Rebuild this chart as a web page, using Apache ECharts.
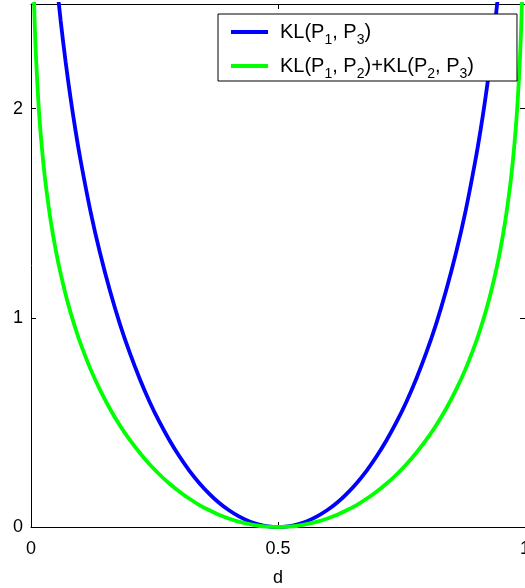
<!DOCTYPE html>
<html>
<head>
<meta charset="utf-8">
<script src="https://cdn.jsdelivr.net/npm/echarts@6/dist/echarts.min.js"></script>
<style>
  html, body { margin: 0; padding: 0; background: #ffffff; }
  #chart { width: 525px; height: 588px; }
</style>
</head>
<body>
<div id="chart"></div>
<script>
// Distance parameter d
const dValues = [0.004,0.006,0.008,0.01,0.015,0.02,0.025,0.03,0.04,0.05,0.06,0.07,0.08,0.09,0.10,
  0.12,0.14,0.16,0.18,0.20,0.22,0.24,0.26,0.28,0.30,0.32,0.34,0.36,0.38,0.40,0.42,0.44,0.46,0.48,0.50,
  0.52,0.54,0.56,0.58,0.60,0.62,0.64,0.66,0.68,0.70,0.72,0.74,0.76,0.78,0.80,0.82,0.84,0.86,0.88,
  0.90,0.91,0.92,0.93,0.94,0.95,0.96,0.97,0.975,0.98,0.985,0.99,0.992,0.994,0.996];

// KL(P1, P3)
const klDirect = [5.473,5.049,4.743,4.503,4.059,3.736,3.480,3.268,2.924,2.650,2.421,2.225,2.052,1.897,1.758,
  1.514,1.307,1.128,0.970,0.832,0.709,0.599,0.502,0.416,0.339,0.271,0.212,0.161,0.117,0.081,0.052,0.029,0.013,0.003,0,
  0.003,0.013,0.029,0.052,0.081,0.117,0.161,0.212,0.271,0.339,0.416,0.502,0.599,0.709,0.832,0.970,1.128,1.307,1.514,
  1.758,1.897,2.052,2.225,2.421,2.650,2.924,3.268,3.480,3.736,4.059,4.503,4.743,5.049,5.473];

// KL(P1, P2) + KL(P2, P3)
const klSum = [2.737,2.525,2.372,2.252,2.030,1.868,1.740,1.634,1.462,1.325,1.211,1.113,1.026,0.949,0.879,
  0.757,0.654,0.564,0.485,0.416,0.355,0.300,0.251,0.208,0.170,0.136,0.106,0.081,0.059,0.041,0.026,0.015,0.006,0.002,0,
  0.002,0.006,0.015,0.026,0.041,0.059,0.081,0.106,0.136,0.170,0.208,0.251,0.300,0.355,0.416,0.485,0.564,0.654,0.757,
  0.879,0.949,1.026,1.113,1.211,1.325,1.462,1.634,1.740,1.868,2.030,2.252,2.372,2.525,2.737];

const xTicks = [0, 0.5, 1];
const yTicks = [0, 1, 2];
const seriesNames = ['KL(P1, P3)', 'KL(P1, P2)+KL(P2, P3)'];
const legendRich = {
  'KL(P1, P3)': '{a|KL(P}{s|1}{a|, P}{s|3}{a|)}',
  'KL(P1, P2)+KL(P2, P3)': '{a|KL(P}{s|1}{a|, P}{s|2}{a|)+KL(P}{s|2}{a|, P}{s|3}{a|)}'
};

const font = '"Liberation Sans", Arial, Helvetica, sans-serif';
const pairs = (ys) => dValues.map((d, i) => [d, ys[i]]);

const chart = echarts.init(document.getElementById('chart'), null, { renderer: 'canvas' });

const tickStyle = { show: true, inside: true, length: 5, lineStyle: { color: '#000', width: 1 } };
const lineStyle = { show: true, onZero: false, lineStyle: { color: '#000', width: 1 } };

chart.setOption({
  animation: false,
  backgroundColor: '#ffffff',
  grid: { left: 31, right: 0, top: 4, bottom: 61, containLabel: false, outerBoundsMode: 'none' },
  xAxis: [
    {
      type: 'value', position: 'bottom', min: 0, max: 1, interval: 0.5,
      axisLine: lineStyle, axisTick: tickStyle, splitLine: { show: false },
      axisLabel: {
        color: '#000', fontSize: 18, fontFamily: font, margin: 13,
        formatter: (v) => xTicks.includes(v) ? String(v) : ''
      },
      name: 'd', nameLocation: 'middle', nameGap: 42,
      nameTextStyle: { color: '#000', fontSize: 18, fontFamily: font }
    },
    {
      type: 'value', position: 'top', min: 0, max: 1, interval: 0.5,
      axisLine: lineStyle, axisTick: tickStyle, axisLabel: { show: false }, splitLine: { show: false }
    }
  ],
  yAxis: [
    {
      type: 'value', position: 'left', min: 0, max: 2.5, interval: 1,
      axisLine: lineStyle, axisTick: tickStyle, splitLine: { show: false },
      axisLabel: {
        color: '#000', fontSize: 18, fontFamily: font, margin: 8, showMaxLabel: false,
        formatter: (v) => yTicks.includes(v) ? String(v) : ''
      }
    },
    {
      type: 'value', position: 'right', min: 0, max: 2.5, interval: 1,
      axisLine: lineStyle, axisTick: tickStyle, axisLabel: { show: false }, splitLine: { show: false }
    }
  ],
  legend: {
    orient: 'vertical',
    left: 218, top: 14,
    padding: [8, 43, 0, 13],
    itemGap: 9,
    itemWidth: 37, itemHeight: 4,
    icon: 'rect',
    backgroundColor: '#ffffff',
    borderColor: '#000', borderWidth: 1, borderRadius: 0,
    data: seriesNames,
    formatter: (name) => legendRich[name],
    textStyle: {
      color: '#000', fontFamily: font, padding: [0, 0, 0, 7],
      rich: {
        a: { fontSize: 20, lineHeight: 20, verticalAlign: 'top', fontFamily: font, color: '#000' },
        s: { fontSize: 14, lineHeight: 14, padding: [11, 0, 0, 0], verticalAlign: 'top', fontFamily: font, color: '#000' }
      }
    }
  },
  series: [
    {
      name: seriesNames[0], type: 'line', data: pairs(klDirect),
      xAxisIndex: 0, yAxisIndex: 0,
      showSymbol: false, smooth: 0.3, clip: true,
      lineStyle: { color: '#0000ff', width: 3.8 }, itemStyle: { color: '#0000ff' }
    },
    {
      name: seriesNames[1], type: 'line', data: pairs(klSum),
      xAxisIndex: 0, yAxisIndex: 0,
      showSymbol: false, smooth: 0.3, clip: true,
      lineStyle: { color: '#00ff00', width: 3.8 }, itemStyle: { color: '#00ff00' }
    }
  ]
});
</script>
</body>
</html>
